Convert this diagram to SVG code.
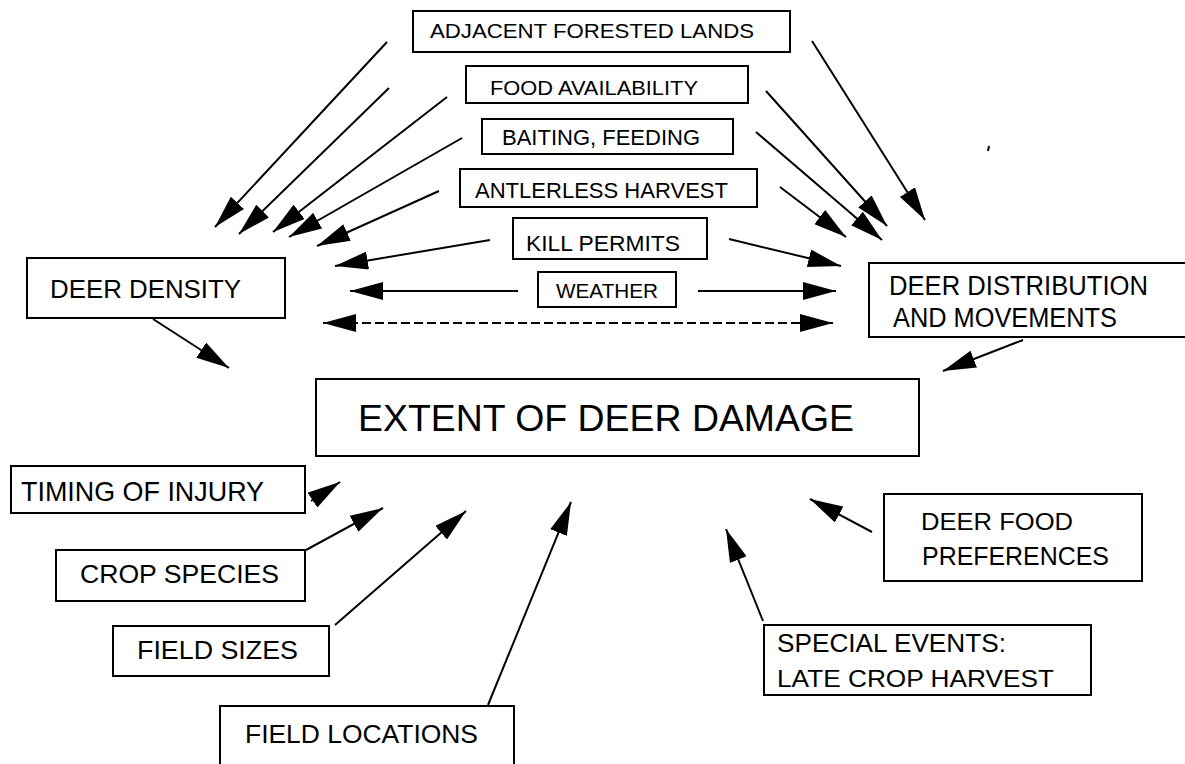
<svg xmlns="http://www.w3.org/2000/svg" width="1185" height="764" viewBox="0 0 1185 764">
<style>
.box{fill:#fff;stroke:#000;stroke-width:2}
.t{font-family:"Liberation Sans",Arial,sans-serif;fill:#000}
.c{stroke:#000;stroke-width:2;fill:none;marker-end:url(#ah)}
</style>
<defs>
<marker id="ah" markerUnits="userSpaceOnUse" markerWidth="33" markerHeight="18" refX="33" refY="9" orient="auto-start-reverse" viewBox="0 0 33 18">
<path d="M0,0 L33,9 L0,18 z" fill="#000"/>
</marker>
</defs>
<rect width="1185" height="764" fill="#fff"/>
<g id="connectors">
<line class="c" x1="387" y1="42" x2="215" y2="227"/>
<line class="c" x1="389" y1="88" x2="239" y2="234"/>
<line class="c" x1="447" y1="97" x2="273" y2="232"/>
<line class="c" x1="462" y1="138" x2="289" y2="237"/>
<line class="c" x1="439" y1="191" x2="317" y2="246"/>
<line class="c" x1="490" y1="240" x2="335" y2="266"/>
<line class="c" x1="518" y1="291" x2="350" y2="291"/>
<line class="c" x1="812" y1="41" x2="925" y2="220"/>
<line class="c" x1="766" y1="91" x2="887" y2="226"/>
<line class="c" x1="756" y1="132" x2="882" y2="240"/>
<line class="c" x1="780" y1="187" x2="846" y2="237"/>
<line class="c" x1="729" y1="239" x2="841" y2="266"/>
<line class="c" x1="698" y1="291" x2="836" y2="291"/>
<line class="c" x1="323" y1="323" x2="833" y2="323" stroke-dasharray="9,4" marker-start="url(#ah)"/>
<line class="c" x1="153" y1="319" x2="229" y2="368"/>
<line class="c" x1="1023" y1="340" x2="943" y2="371"/>
<line class="c" x1="872" y1="532" x2="810" y2="499"/>
<line class="c" x1="763" y1="621" x2="726" y2="529"/>
<line class="c" x1="311" y1="501" x2="340" y2="482"/>
<line class="c" x1="306" y1="550" x2="383" y2="508"/>
<line class="c" x1="335" y1="625" x2="466" y2="511"/>
<line class="c" x1="488" y1="705" x2="571" y2="502"/>
</g>
<g id="n-adjacent"><rect class="box" x="413" y="11" width="377" height="41"/><text class="t" x="430" y="38" font-size="20" textLength="324" lengthAdjust="spacingAndGlyphs">ADJACENT FORESTED LANDS</text></g>
<g id="n-food"><rect class="box" x="466" y="66" width="282" height="37"/><text class="t" x="490" y="95" font-size="21" textLength="208" lengthAdjust="spacingAndGlyphs">FOOD AVAILABILITY</text></g>
<g id="n-baiting"><rect class="box" x="482" y="119" width="251" height="35"/><text class="t" x="502" y="145" font-size="22" textLength="198" lengthAdjust="spacingAndGlyphs">BAITING, FEEDING</text></g>
<g id="n-antlerless"><rect class="box" x="460" y="169" width="297" height="38"/><text class="t" x="475" y="198" font-size="22" textLength="253" lengthAdjust="spacingAndGlyphs">ANTLERLESS HARVEST</text></g>
<g id="n-kill"><rect class="box" x="513" y="218" width="194" height="41"/><text class="t" x="526" y="251" font-size="22" textLength="154" lengthAdjust="spacingAndGlyphs">KILL PERMITS</text></g>
<g id="n-weather"><rect class="box" x="538" y="272" width="138" height="35"/><text class="t" x="556" y="298" font-size="21" textLength="102" lengthAdjust="spacingAndGlyphs">WEATHER</text></g>
<g id="n-density"><rect class="box" x="27" y="258" width="258" height="60"/><text class="t" x="50" y="298" font-size="26" textLength="191" lengthAdjust="spacingAndGlyphs">DEER DENSITY</text></g>
<g id="n-distribution"><rect class="box" x="869" y="263" width="330" height="74"/><text class="t" x="889" y="295" font-size="27" textLength="259" lengthAdjust="spacingAndGlyphs">DEER DISTRIBUTION</text><text class="t" x="893" y="327" font-size="27" textLength="224" lengthAdjust="spacingAndGlyphs">AND MOVEMENTS</text></g>
<g id="n-extent"><rect class="box" x="316" y="379" width="603" height="77"/><text class="t" x="358" y="431" font-size="37" textLength="496" lengthAdjust="spacingAndGlyphs">EXTENT OF DEER DAMAGE</text></g>
<g id="n-timing"><rect class="box" x="11" y="466" width="294" height="47"/><text class="t" x="21" y="501" font-size="28" textLength="243" lengthAdjust="spacingAndGlyphs">TIMING OF INJURY</text></g>
<g id="n-crop"><rect class="box" x="56" y="550" width="249" height="51"/><text class="t" x="80" y="583" font-size="25" textLength="199" lengthAdjust="spacingAndGlyphs">CROP SPECIES</text></g>
<g id="n-fieldsizes"><rect class="box" x="113" y="626" width="216" height="50"/><text class="t" x="137" y="659" font-size="26" textLength="161" lengthAdjust="spacingAndGlyphs">FIELD SIZES</text></g>
<g id="n-fieldlocations"><rect class="box" x="220" y="706" width="294" height="70"/><text class="t" x="245" y="743" font-size="25" textLength="233" lengthAdjust="spacingAndGlyphs">FIELD LOCATIONS</text></g>
<g id="n-preferences"><rect class="box" x="884" y="494" width="258" height="87"/><text class="t" x="921" y="530" font-size="24" textLength="152" lengthAdjust="spacingAndGlyphs">DEER FOOD</text><text class="t" x="922" y="565" font-size="25" textLength="187" lengthAdjust="spacingAndGlyphs">PREFERENCES</text></g>
<g id="n-special"><rect class="box" x="764" y="625" width="327" height="70"/><text class="t" x="777" y="652" font-size="25" textLength="229" lengthAdjust="spacingAndGlyphs">SPECIAL EVENTS:</text><text class="t" x="777" y="687" font-size="24" textLength="277" lengthAdjust="spacingAndGlyphs">LATE CROP HARVEST</text></g>
<line x1="989" y1="146" x2="988" y2="151" stroke="#000" stroke-width="2"/>
</svg>
